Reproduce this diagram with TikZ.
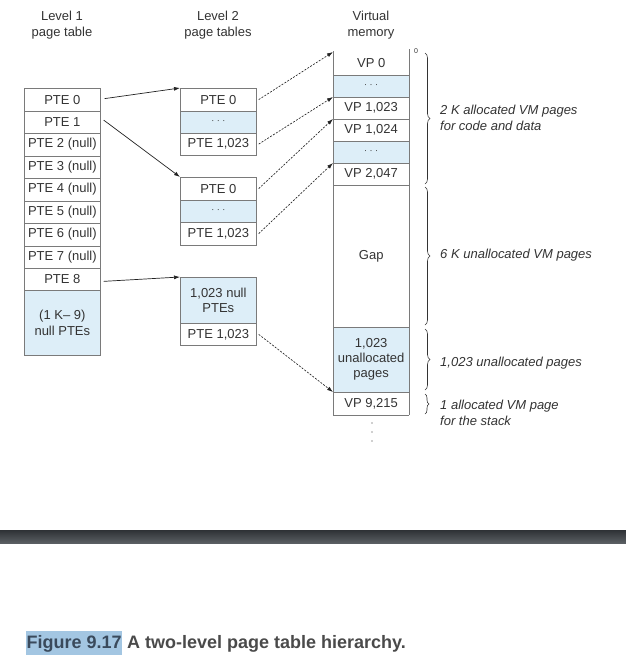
\documentclass[tikz,border=0pt]{standalone}
\usepackage{fontspec}
\setmainfont{Liberation Sans}
\usetikzlibrary{arrows.meta,decorations.pathreplacing}
\definecolor{cellblue}{HTML}{DDEEF8}
\definecolor{edgegray}{HTML}{7A7A7A}
\definecolor{ink}{HTML}{333333}
\definecolor{arrowink}{HTML}{222222}
\definecolor{hlblue}{HTML}{A3C6E2}
\definecolor{capink}{HTML}{4A4A4A}
\definecolor{capfigink}{HTML}{3A4A5C}
\definecolor{bartop}{HTML}{2E3135}
\definecolor{barbot}{HTML}{5A5F63}
\newcommand\cellfnt{\fontsize{13}{15.5}\selectfont}
\newcommand\dotsfnt{\fontsize{9}{10}\selectfont}
\begin{document}
\begin{tikzpicture}[x=1pt,y=-1pt,
  cell/.style={draw=edgegray, line width=0.7pt, minimum width=76pt, inner sep=0pt,
    anchor=north west, text=ink, font=\cellfnt, align=center},
  bluecell/.style={cell, fill=cellblue},
  vmcell/.style={minimum width=76pt, inner sep=0pt, anchor=north west, text=ink,
    font=\cellfnt, align=center},
  vmline/.style={draw=edgegray, line width=0.7pt},
  head/.style={text=ink, font=\cellfnt, align=center, inner sep=0pt},
  note/.style={text=ink, font=\cellfnt\itshape, align=left, anchor=west, inner sep=0pt},
  solidarrow/.style={draw=arrowink, line width=0.7pt, -{Latex[length=6pt,width=4pt]}},
  dasharrow/.style={draw=arrowink, line width=0.65pt, dash pattern=on 2pt off 1.4pt,
    -{Latex[length=6pt,width=4pt]}},
  bracestyle/.style={draw=ink, line width=0.6pt, decorate,
    decoration={brace, amplitude=5pt}}
]
\useasboundingbox (0,0) rectangle (626,657);

% headers
\node[head] (h1) at (62,25) {Level 1\\page table};
\node[head] (h2) at (218,25) {Level 2\\page tables};
\node[head] (h3) at (371,25) {Virtual\\memory};

% level 1 page table
\node[cell, minimum height=22.5pt] (a0) at (24,88) {PTE 0};
\node[cell, minimum height=22.5pt] (a1) at (24,110.5) {PTE 1};
\node[cell, minimum height=22.5pt] (a2) at (24,133) {PTE 2 (null)};
\node[cell, minimum height=22.5pt] (a3) at (24,155.5) {PTE 3 (null)};
\node[cell, minimum height=22.5pt] (a4) at (24,178) {PTE 4 (null)};
\node[cell, minimum height=22.5pt] (a5) at (24,200.5) {PTE 5 (null)};
\node[cell, minimum height=22.5pt] (a6) at (24,223) {PTE 6 (null)};
\node[cell, minimum height=22.5pt] (a7) at (24,245.5) {PTE 7 (null)};
\node[cell, minimum height=22pt] (a8) at (24,268) {PTE 8};
\node[bluecell, minimum height=65pt] (a9) at (24,290) {(1 K-- 9)\\null PTEs};

% level 2 page tables
\node[cell, minimum height=22.5pt] (b0) at (180,88) {PTE 0};
\node[bluecell, minimum height=22pt] (b1) at (180,110.5) {\dotsfnt · · ·};
\node[cell, minimum height=22.5pt] (b2) at (180,132.5) {PTE 1,023};

\node[cell, minimum height=22.5pt] (c0) at (180,177) {PTE 0};
\node[bluecell, minimum height=22.5pt] (c1) at (180,199.5) {\dotsfnt · · ·};
\node[cell, minimum height=22.5pt] (c2) at (180,222) {PTE 1,023};

\node[bluecell, minimum height=46pt] (d0) at (180,277) {1,023 null\\PTEs};
\node[cell, minimum height=22pt] (d1) at (180,323) {PTE 1,023};

% virtual memory
\node[vmcell, minimum height=22.5pt] (v0) at (333,52) {VP 0};
\node[vmcell, fill=cellblue, minimum height=22.5pt] (v1) at (333,74.5) {\dotsfnt · · ·};
\node[vmcell, minimum height=22pt] (v2) at (333,97) {VP 1,023};
\node[vmcell, minimum height=22pt] (v3) at (333,119) {VP 1,024};
\node[vmcell, fill=cellblue, minimum height=22pt] (v4) at (333,141) {\dotsfnt · · ·};
\node[vmcell, minimum height=22pt] (v5) at (333,163) {VP 2,047};
\node[vmcell, minimum height=142pt] (v6) at (333,185) {Gap};
\node[vmcell, fill=cellblue, minimum height=65pt, font=\fontsize{13}{15}\selectfont] (v7) at (333,327) {1,023\\unallocated\\pages};
\node[vmcell, minimum height=23pt] (v8) at (333,392) {VP 9,215};

\path[vmline] ([yshift=1pt]v0.north west) -- (v8.south west);
\path[vmline] ([yshift=3pt]v0.north east) -- (v8.south east);
\foreach \n in {v0,v1,v2,v3,v4,v5,v6,v7,v8}
  \path[vmline] (\n.south west) -- (\n.south east);

% continuation dots
\foreach \yy/\nm in {423/k1,432/k2,441/k3}
  \fill[ink] (372,\yy) coordinate (\nm) circle (0.7pt);

% "0" address label
\node[text=ink, font=\fontsize{7}{8}\selectfont, inner sep=0pt] (zero) at (416,51) {0};

% braces
\coordinate (br1a) at (425,53);  \coordinate (br1b) at (425,184);
\coordinate (br2a) at (425,187); \coordinate (br2b) at (425,325);
\coordinate (br3a) at (425,329); \coordinate (br3b) at (425,390);
\coordinate (br4a) at (425,394); \coordinate (br4b) at (425,414);
\draw[bracestyle] (br1a) -- (br1b);
\draw[bracestyle] (br2a) -- (br2b);
\draw[bracestyle] (br3a) -- (br3b);
\draw[bracestyle, decoration={brace, amplitude=4pt}] (br4a) -- (br4b);

\node[note] (n1) at (440,118) {2 K allocated VM pages\\for code and data};
\node[note] (n2) at (440,255) {6 K unallocated VM pages};
\node[note] (n3) at (440,363) {1,023 unallocated pages};
\node[note] (n4) at (440,413) {1 allocated VM page\\for the stack};

% level 1 -> level 2
\path[solidarrow] ([xshift=4pt,yshift=1pt]a0.east) -- (b0.north west);
\path[solidarrow] ([xshift=3pt,yshift=2pt]a1.east) -- (c0.north west);
\path[solidarrow] ([xshift=3pt,yshift=-2pt]a8.east) -- (d0.north west);

% level 2 -> virtual memory
\path[dasharrow] ([xshift=2pt]b0.east) -- (v0.north west);
\path[dasharrow] ([xshift=2pt]b2.east) -- (v2.north west);
\path[dasharrow] ([xshift=2pt]c0.east) -- (v3.north west);
\path[dasharrow] ([xshift=2pt]c2.east) -- (v5.north west);
\path[dasharrow] ([xshift=2pt]d1.east) -- (v8.north west);

% page separator bar
\shade[top color=bartop, bottom color=barbot] (0,530) rectangle (626,543);

% caption
\node[anchor=base west, fill=hlblue, inner xsep=0.5pt, inner ysep=3.5pt, text=capfigink,
  font=\fontsize{18}{21}\selectfont\bfseries] (capfig) at (26,648) {Figure 9.17};
\node[anchor=base west, inner sep=0pt, text=capink,
  font=\fontsize{18}{21}\selectfont\bfseries] (captxt) at ([xshift=4.5pt]capfig.base east) {A two-level page table hierarchy.};
\end{tikzpicture}
\end{document}
